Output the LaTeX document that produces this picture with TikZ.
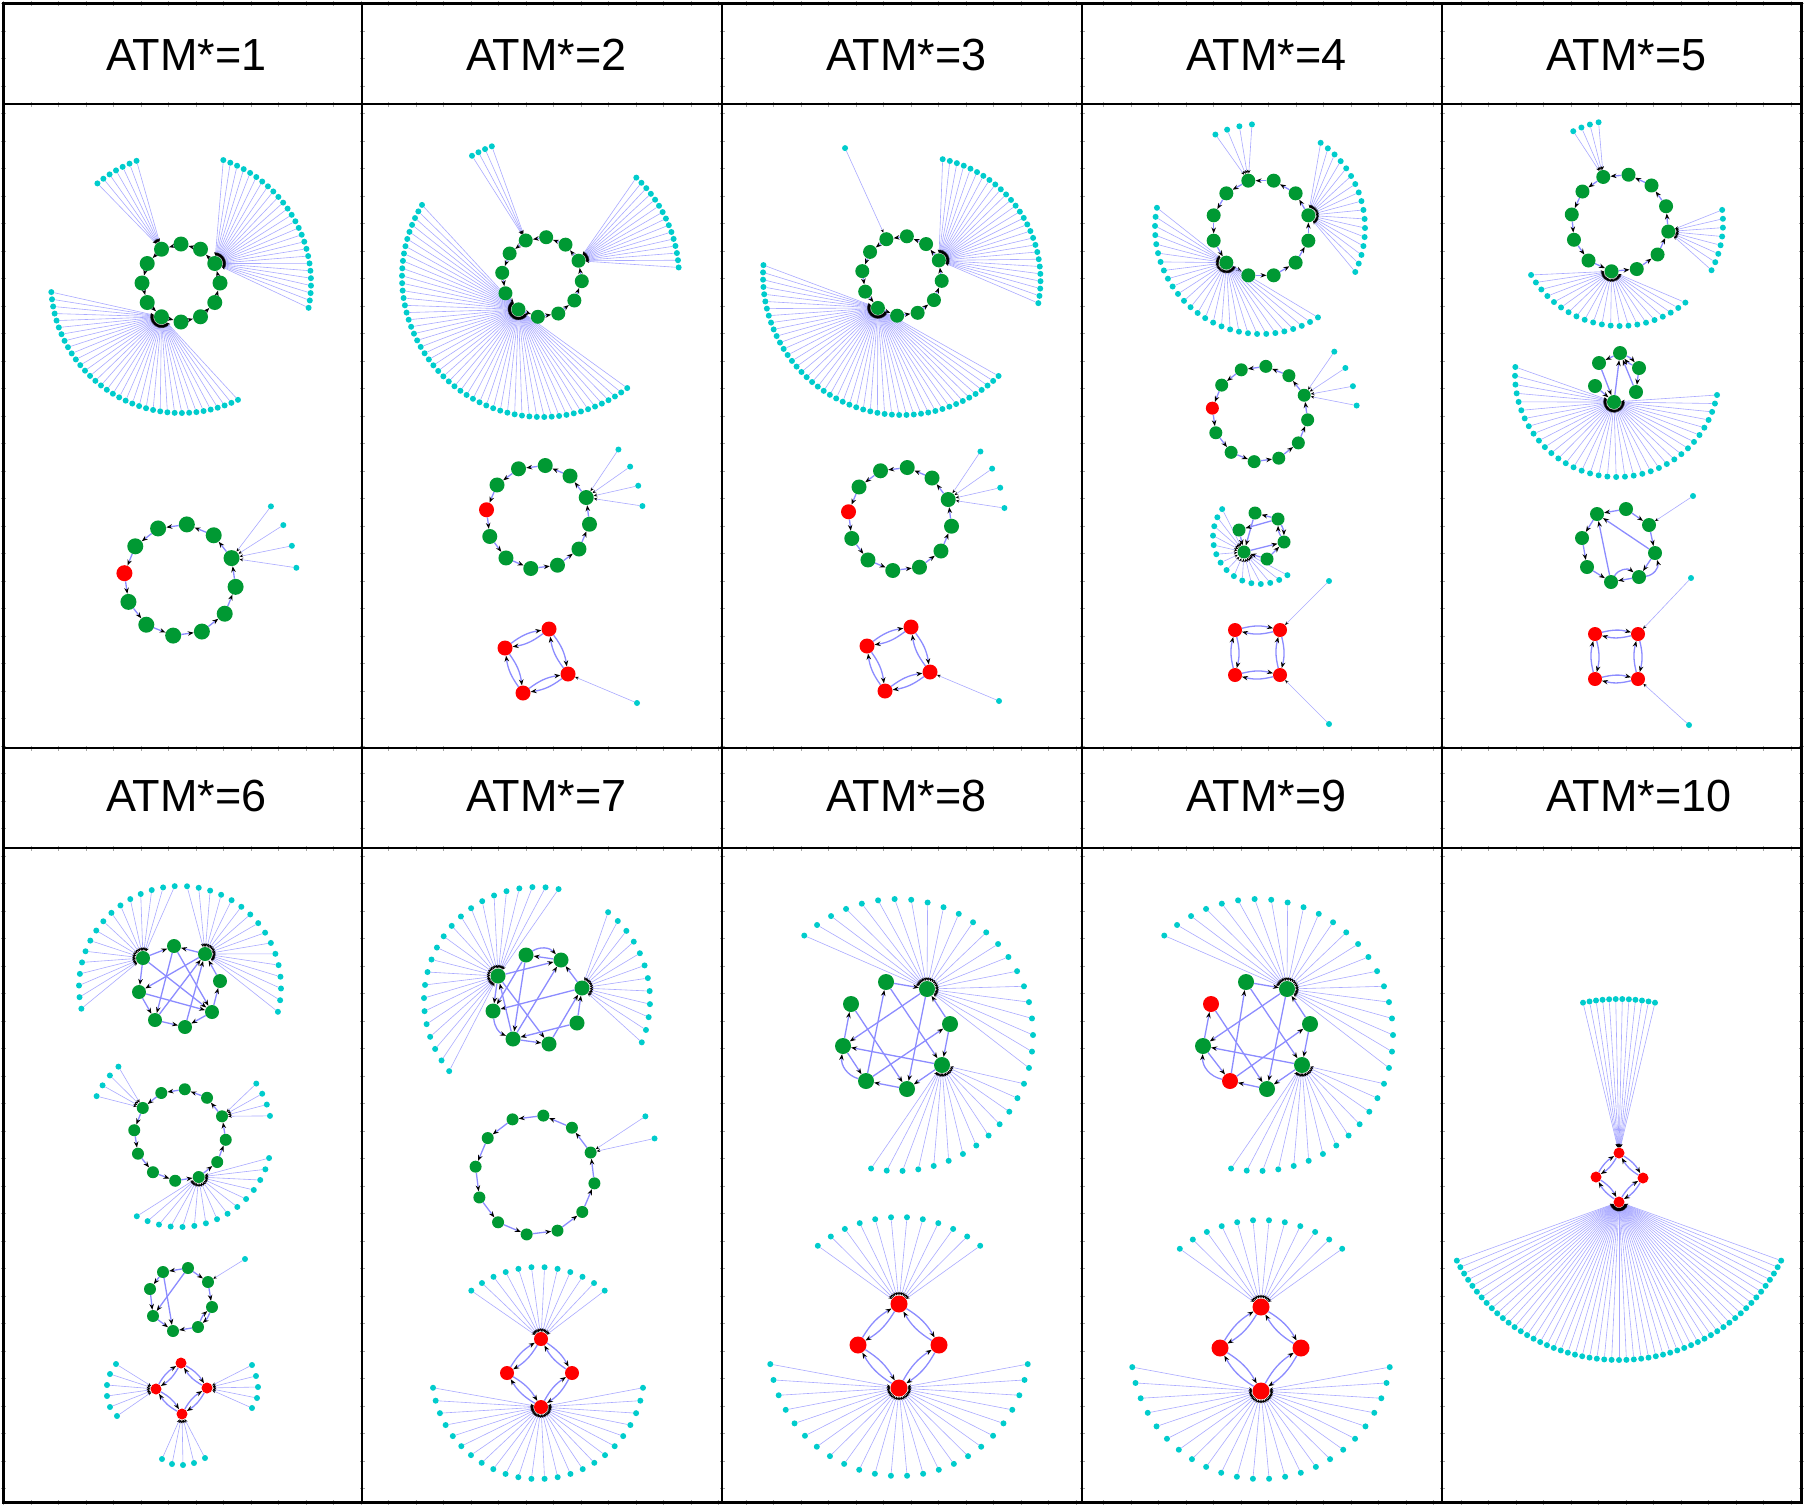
\documentclass[tikz,border=0pt]{standalone}
\usepackage{fontspec}
\setmainfont{Liberation Sans}
\usetikzlibrary{arrows.meta}
\pgfdeclarelayer{bg}
\pgfsetlayers{bg,main}
\definecolor{gr}{RGB}{0,153,51}
\definecolor{rd}{RGB}{255,0,0}
\definecolor{cy}{RGB}{0,204,204}
\definecolor{eb}{RGB}{140,140,255}
\definecolor{lb}{RGB}{170,170,255}
\tikzset{
  nd/.style={circle,inner sep=0pt,draw=none},
  lf/.style={nd,fill=cy,minimum size=6pt},
  ie/.style={draw=eb,line width=1.3pt,-{Stealth[length=6pt,width=4.5pt,color=black]}},
  le/.style={draw=lb,line width=0.6pt,-{Stealth[length=3.5pt,width=3pt,color=black]}},
  hdr/.style={font=\fontsize{45}{48}\selectfont,inner sep=0pt,anchor=west},
  grid/.style={line width=2pt,draw=black},
  tick/.style={draw=black!35,line width=5pt,dash pattern=on 1pt off 26.5pt}
}
% deferred edge drawing (all edges go to the background layer at the end)
\def\deferred{}
\newcommand\defer[1]{\xdef\deferred{\unexpanded\expandafter{\deferred}\unexpanded{#1}}}
\newcommand\fanedges[3]{\foreach \i in {1,...,#3}{\draw[le] (#2\i) -- (#1);}}
\newcommand\ringedges[2]{\foreach \k in {1,...,#2}{\pgfmathtruncatemacro\pv{\k==1 ? #2 : \k-1}\draw[ie] (#1\k) -- (#1\pv);}}
% fan: hub, prefix, cx, cy, R, a0, a1, n
\newcommand\mkfan[8]{%
  \foreach \i in {1,...,#8}{%
    \ifnum#8=1\relax
      \pgfmathsetmacro\ang{#6}%
    \else
      \pgfmathsetmacro\ang{#6+(\i-1)*((#7)-(#6))/(#8-1)}%
    \fi
    \pgfmathsetmacro\px{#3+#5*cos(\ang)}%
    \pgfmathsetmacro\py{#4+#5*sin(\ang)}%
    \node[lf] (#2\i) at (\px,\py) {};
  }%
  \defer{\fanedges{#1}{#2}{#8}}}
% ring: prefix, cx, cy, r, n, a0, size, red index
\newcommand\mkring[8]{%
  \foreach \k in {1,...,#5}{%
    \pgfmathsetmacro\ang{#6+(\k-1)*360/#5}%
    \pgfmathsetmacro\px{#2+#4*cos(\ang)}%
    \pgfmathsetmacro\py{#3+#4*sin(\ang)}%
    \ifnum\k=#8\relax\def\col{rd}\else\def\col{gr}\fi
    \node[nd,fill=\col,minimum size=#7pt] (#1\k) at (\px,\py) {};
  }%
  \defer{\ringedges{#1}{#5}}}
\newcommand\nd[5]{\node[nd,fill=#4,minimum size=#5pt] (#1) at (#2,#3) {};}
\newcommand\edx[1]{\foreach \a/\b in {#1}{\draw[ie] (\a) -- (\b);}}
\newcommand\bdx[1]{\foreach \a/\b in {#1}{\draw[ie] (\a) to[bend left=14] (\b); \draw[ie] (\b) to[bend left=14] (\a);}}
\newcommand\ed[1]{\defer{\edx{#1}}}
\newcommand\bd[1]{\defer{\bdx{#1}}}
\newcommand\lv[4]{\node[lf] (#1) at (#2,#3) {};%
  \edef\tmpedge{\noexpand\draw[le] (#1) -- (#4);}%
  \expandafter\defer\expandafter{\tmpedge}}
\begin{document}
\begin{tikzpicture}[x=1pt,y=-1pt]
\useasboundingbox (0,0) rectangle (1804,1505);
% grid
\foreach \xx in {3,362,722,1082,1442,1801}{\draw[tick] (\xx,3) -- (\xx,1502);}
\foreach \yy in {3,104,748,848,1502}{\draw[tick] (3,\yy) -- (1801,\yy);}
\draw[line width=3pt] (3,3) rectangle (1801,1502);
\foreach \xx in {362,722,1082,1442}{\draw[grid] (\xx,3) -- (\xx,1502);}
\foreach \yy in {104,748,848}{\draw[grid] (3,\yy) -- (1801,\yy);}
% headers
\node[hdr] (h1) at (106,55) {ATM*=1};
\node[hdr] (h2) at (466,55) {ATM*=2};
\node[hdr] (h3) at (826,55) {ATM*=3};
\node[hdr] (h4) at (1186,55) {ATM*=4};
\node[hdr] (h5) at (1546,55) {ATM*=5};
\node[hdr] (h6) at (106,796) {ATM*=6};
\node[hdr] (h7) at (466,796) {ATM*=7};
\node[hdr] (h8) at (826,796) {ATM*=8};
\node[hdr] (h9) at (1186,796) {ATM*=9};
\node[hdr] (h10) at (1546,796) {ATM*=10};

% ===== Panel 1 =====
\mkring{pa}{181}{283}{39}{12}{0}{15}{0}
\mkfan{pa12}{paR}{181}{283}{130}{289}{371}{26}
\mkfan{pa5}{paL}{181}{283}{130}{176}{64}{36}
\mkfan{pa9}{paS}{181}{283}{130}{230}{250}{7}
\mkring{pb}{180}{580}{56}{12}{7}{16}{7}
\mkfan{pb12}{pbR}{180}{580}{117}{321}{354}{4}

% ===== Panel 2 =====
\mkring{qa}{542}{277}{40}{12}{6}{14}{0}
\mkfan{qa5}{qaL}{542}{277}{140}{211}{52.5}{53}
\mkfan{qa9}{qaS}{542}{277}{140}{240}{249}{4}
\mkfan{qa12}{qaR}{542}{277}{137}{313.5}{356}{15}
\mkring{qb}{538}{517}{52}{12}{8}{15}{7}
\mkfan{qb12}{qbR}{538}{517}{105}{320}{354}{4}
\nd{qc1}{549}{629}{rd}{15}\nd{qc2}{505}{648}{rd}{15}\nd{qc3}{523}{693}{rd}{15}\nd{qc4}{568}{674}{rd}{15}
\bd{qc1/qc2,qc2/qc3,qc3/qc4,qc4/qc1}
\lv{qcL}{637}{703}{qc4}

% ===== Panel 3 =====
\mkring{ra}{902}{276}{40}{12}{7}{14}{0}
\mkfan{ra5}{raL}{902}{276}{139}{184.5}{46}{47}
\mkfan{ra12}{raR}{917}{280}{123.5}{282}{370.8}{27}
\mkfan{ra9}{raS}{902}{276}{140}{246}{246}{1}
\mkring{rb}{900}{519}{52}{12}{8}{15}{7}
\mkfan{rb12}{rbR}{900}{519}{105}{320}{354}{4}
\nd{rc1}{911}{627}{rd}{15}\nd{rc2}{867}{646}{rd}{15}\nd{rc3}{885}{691}{rd}{15}\nd{rc4}{930}{672}{rd}{15}
\bd{rc1/rc2,rc2/rc3,rc3/rc4,rc4/rc1}
\lv{rcL}{999}{701}{rc4}

% ===== Panel 4 =====
\mkring{sa}{1261}{228}{49}{12}{15}{14}{0}
\mkfan{sa9}{saS}{1261}{228}{104}{244}{265}{4}
\mkfan{sa12}{saR}{1261}{228}{104}{305}{385}{17}
\mkfan{sa5}{saL}{1261}{228}{106}{191}{57.5}{28}
\mkring{sb}{1260}{414}{48}{12}{7}{13}{7}
\mkfan{sb12}{sbR}{1260}{414}{97}{320}{355}{4}
\nd{sc1}{1255}{513}{gr}{13}\nd{sc2}{1278}{519}{gr}{13}\nd{sc3}{1239}{530}{gr}{13}
\nd{sc4}{1284}{542}{gr}{13}\nd{sch}{1244}{552}{gr}{13}\nd{sc6}{1267}{559}{gr}{13}
\ed{sc2/sc1,sc1/sch,sc3/sch,sc2/sc3,sch/sc4,sc6/sch,sc6/sc4}
\bd{sc4/sc2}
\mkfan{sch}{scL}{1260}{537}{47}{216.4}{54.3}{15}
\nd{sd1}{1235}{630}{rd}{14}\nd{sd2}{1280}{630}{rd}{14}\nd{sd3}{1235}{675}{rd}{14}\nd{sd4}{1280}{675}{rd}{14}
\bd{sd1/sd2,sd2/sd4,sd4/sd3,sd3/sd1}
\lv{sdA}{1329}{581}{sd2}
\lv{sdB}{1329}{724}{sd4}

% ===== Panel 5 =====
\mkring{ta}{1620}{223}{49}{12}{10}{14}{0}
\mkfan{ta9}{taS}{1620}{223}{103}{243}{258}{4}
\mkfan{ta1}{taR}{1620}{223}{103}{352.7}{387.3}{8}
\mkfan{ta4}{taL}{1620}{223}{103}{149.7}{50.6}{21}
\nd{tb1}{1620}{353}{gr}{14}\nd{tb2}{1599}{363}{gr}{14}\nd{tb3}{1639}{368}{gr}{14}
\nd{tb4}{1595}{386}{gr}{14}\nd{tb5}{1636}{392}{gr}{14}\nd{tbh}{1614}{402}{gr}{14}
\ed{tb1/tb2,tb2/tbh,tb4/tbh,tbh/tb1,tb5/tb1,tb3/tb5}
\bd{tb3/tb1}
\mkfan{tbh}{tbL}{1617}{375}{102}{184.5}{11.3}{36}
\nd{tc1}{1597}{514}{gr}{14}\nd{tc2}{1626}{509}{gr}{14}\nd{tc3}{1649}{525}{gr}{14}\nd{tc4}{1655}{553}{gr}{14}
\nd{tc5}{1639}{577}{gr}{14}\nd{tc6}{1611}{582}{gr}{14}\nd{tc7}{1587}{567}{gr}{14}\nd{tc8}{1582}{538}{gr}{14}
\ed{tc2/tc1,tc2/tc3,tc3/tc4,tc4/tc1,tc4/tc5,tc5/tc6,tc7/tc6,tc8/tc7,tc1/tc8,tc6/tc1}
\defer{\draw[ie] (tc5) to[bend right=50] (tc4); \draw[ie] (tc6) to[bend left=50] (tc5);}
\lv{tcL}{1693}{496}{tc3}
\nd{td1}{1595}{634}{rd}{14}\nd{td2}{1638}{634}{rd}{14}\nd{td3}{1595}{679}{rd}{14}\nd{td4}{1638}{679}{rd}{14}
\bd{td1/td2,td2/td4,td4/td3,td3/td1}
\lv{tdA}{1691}{578}{td2}
\lv{tdB}{1689}{725}{td4}

% ===== Panel 6 =====
\nd{ua1}{174}{946}{gr}{14}\nd{uaL}{143}{958}{gr}{14}\nd{uaR}{205}{954}{gr}{14}\nd{ua4}{220}{981}{gr}{14}
\nd{ua5}{139}{992}{gr}{14}\nd{ua6}{212}{1012}{gr}{14}\nd{ua7}{155}{1020}{gr}{14}\nd{ua8}{185}{1027}{gr}{14}
\ed{uaR/ua1,uaL/ua1,ua1/ua7,ua1/ua6,ua4/uaR,uaL/ua5,uaR/ua5,uaL/ua6,ua7/uaR,ua8/uaR,ua7/ua8,ua6/ua8,ua6/ua4,ua5/ua7,ua5/ua6}
\mkfan{uaL}{uaLl}{180}{987}{101}{167.6}{267}{16}
\mkfan{uaR}{uaRl}{180}{987}{101}{274}{374.2}{16}
\mkring{ub}{180}{1135}{46}{12}{6}{12}{0}
\mkfan{ub8}{ubS}{180}{1135}{92}{228}{205}{4}
\mkfan{ub12}{ubR}{180}{1135}{92}{326}{348}{4}
\mkfan{ub3}{ubB}{180}{1135}{92}{14.5}{118}{15}
\nd{uc1}{163}{1272}{gr}{12}\nd{uc2}{188}{1268}{gr}{12}\nd{uc3}{208}{1282}{gr}{12}\nd{uc4}{150}{1289}{gr}{12}
\nd{uc5}{153}{1316}{gr}{12}\nd{uc6}{173}{1331}{gr}{12}\nd{uc7}{198}{1327}{gr}{12}\nd{uc8}{212}{1307}{gr}{12}
\ed{uc2/uc1,uc2/uc3,uc1/uc4,uc4/uc5,uc5/uc6,uc7/uc6,uc3/uc8,uc1/uc6,uc2/uc5}
\bd{uc8/uc7}
\lv{ucL}{245}{1259}{uc3}
\nd{ud1}{181}{1363}{rd}{11}\nd{ud2}{156}{1389}{rd}{11}\nd{ud3}{207}{1388}{rd}{11}\nd{ud4}{182}{1414}{rd}{11}
\bd{ud1/ud2,ud1/ud3,ud2/ud4,ud3/ud4}
\foreach \x/\y [count=\i] in {116/1364,110/1374,107/1385,107/1396,110/1407,117/1416}{\lv{udL\i}{\x}{\y}{ud2}}
\foreach \x/\y [count=\i] in {252/1365,256/1376,258/1387,257/1398,252/1408}{\lv{udR\i}{\x}{\y}{ud3}}
\foreach \x/\y [count=\i] in {162/1459,172/1464,183/1465,194/1463,205/1458}{\lv{udB\i}{\x}{\y}{ud4}}

% ===== Panel 7 =====
\nd{va1}{526}{955}{gr}{15}\nd{va2}{561}{960}{gr}{15}\nd{vaL}{498}{976}{gr}{15}\nd{vaR}{582}{988}{gr}{15}
\nd{va5}{493}{1011}{gr}{15}\nd{va6}{577}{1023}{gr}{15}\nd{va7}{513}{1039}{gr}{15}\nd{va8}{549}{1044}{gr}{15}
\ed{va2/va1,vaL/va2,vaR/va2,vaL/va5,va1/va5,vaR/va5,vaL/va8,va7/vaL,va7/va8,va6/va7,va6/vaR,va8/vaR,va7/va2,va1/va7}
\defer{\draw[ie] (va1) to[bend left=40] (va2); \draw[ie] (va5) to[bend right=30] (va7);}
\mkfan{vaL}{vaLl}{537}{1000}{113}{141}{281}{22}
\mkfan{vaR}{vaRl}{537}{1000}{113}{309}{382}{12}
\mkring{vb}{535}{1175}{60}{12}{8}{12}{0}
\mkfan{vb12}{vbR}{535}{1175}{125}{332}{343}{2}
\nd{vc1}{541}{1339}{rd}{14}\nd{vc2}{507}{1373}{rd}{14}\nd{vc3}{572}{1373}{rd}{14}\nd{vc4}{541}{1407}{rd}{14}
\bd{vc1/vc2,vc1/vc3,vc2/vc4,vc3/vc4}
\mkfan{vc1}{vcT}{538}{1373}{106}{231}{309}{12}
\mkfan{vc4}{vcB}{538}{1373}{106}{172}{8}{24}

% ===== Panel 8 =====
\nd{wa1}{886}{982}{gr}{16}\nd{wah}{927}{989}{gr}{16}\nd{wa3}{851}{1004}{gr}{16}\nd{wa4}{950}{1024}{gr}{16}
\nd{wa5}{843}{1046}{gr}{16}\nd{wag}{942}{1065}{gr}{16}\nd{wa7}{866}{1081}{gr}{16}\nd{wa8}{907}{1089}{gr}{16}
\ed{wa1/wah,wa4/wah,wah/wa5,wah/wa8,wa1/wag,wa4/wag,wag/wa5,wag/wa8,wa5/wa3,wa7/wa1,wa7/wa4,wa3/wa8,wa8/wa7,wa5/wa7}
\defer{\draw[ie] (wa7) to[bend left=40] (wa5);}
\mkfan{wah}{wahl}{897}{1035}{136}{227}{374}{22}
\mkfan{wag}{wagl}{897}{1035}{136}{21}{101}{13}
\nd{wb1}{899}{1304}{rd}{17}\nd{wb2}{858}{1345}{rd}{17}\nd{wb3}{939}{1345}{rd}{17}\nd{wb4}{899}{1388}{rd}{17}
\bd{wb1/wb2,wb1/wb3,wb2/wb4,wb3/wb4}
\mkfan{wb1}{wbT}{899}{1346}{129}{231}{309}{12}
\mkfan{wb4}{wbB}{899}{1346}{130}{172}{8}{24}

% ===== Panel 9 =====
\nd{xa1}{1246}{982}{gr}{16}\nd{xah}{1287}{989}{gr}{16}\nd{xa3}{1211}{1004}{rd}{16}\nd{xa4}{1310}{1024}{gr}{16}
\nd{xa5}{1203}{1046}{gr}{16}\nd{xag}{1302}{1065}{gr}{16}\nd{xa7}{1230}{1081}{rd}{16}\nd{xa8}{1267}{1089}{gr}{16}
\ed{xa1/xah,xa4/xah,xah/xa5,xah/xa8,xa1/xag,xa4/xag,xag/xa5,xag/xa8,xa5/xa3,xa7/xa1,xa7/xa4,xa3/xa8,xa8/xa7,xa5/xa7}
\defer{\draw[ie] (xa7) to[bend left=40] (xa5);}
\mkfan{xah}{xahl}{1257}{1035}{136}{227}{374}{22}
\mkfan{xag}{xagl}{1257}{1035}{136}{21}{101}{13}
\nd{xb1}{1261}{1307}{rd}{17}\nd{xb2}{1220}{1348}{rd}{17}\nd{xb3}{1301}{1348}{rd}{17}\nd{xb4}{1261}{1391}{rd}{17}
\bd{xb1/xb2,xb1/xb3,xb2/xb4,xb3/xb4}
\mkfan{xb1}{xbT}{1261}{1349}{129}{231}{309}{12}
\mkfan{xb4}{xbB}{1261}{1349}{130}{172}{8}{24}

% ===== Panel 10 =====
\nd{ya1}{1619}{1153}{rd}{11}\nd{ya2}{1596}{1177}{rd}{11}\nd{ya3}{1643}{1178}{rd}{11}\nd{ya4}{1619}{1202}{rd}{11}
\bd{ya1/ya2,ya1/ya3,ya2/ya4,ya3/ya4}
\mkfan{ya1}{yaT}{1619}{1178}{179}{258.4}{281.6}{12}
\mkfan{ya4}{yaB}{1619}{1178}{182}{153}{27}{55}

% all connectors, behind the nodes
\begin{pgfonlayer}{bg}
\fill[white] (0,0) rectangle (1804,1505);
\deferred
\end{pgfonlayer}
\end{tikzpicture}
\end{document}
